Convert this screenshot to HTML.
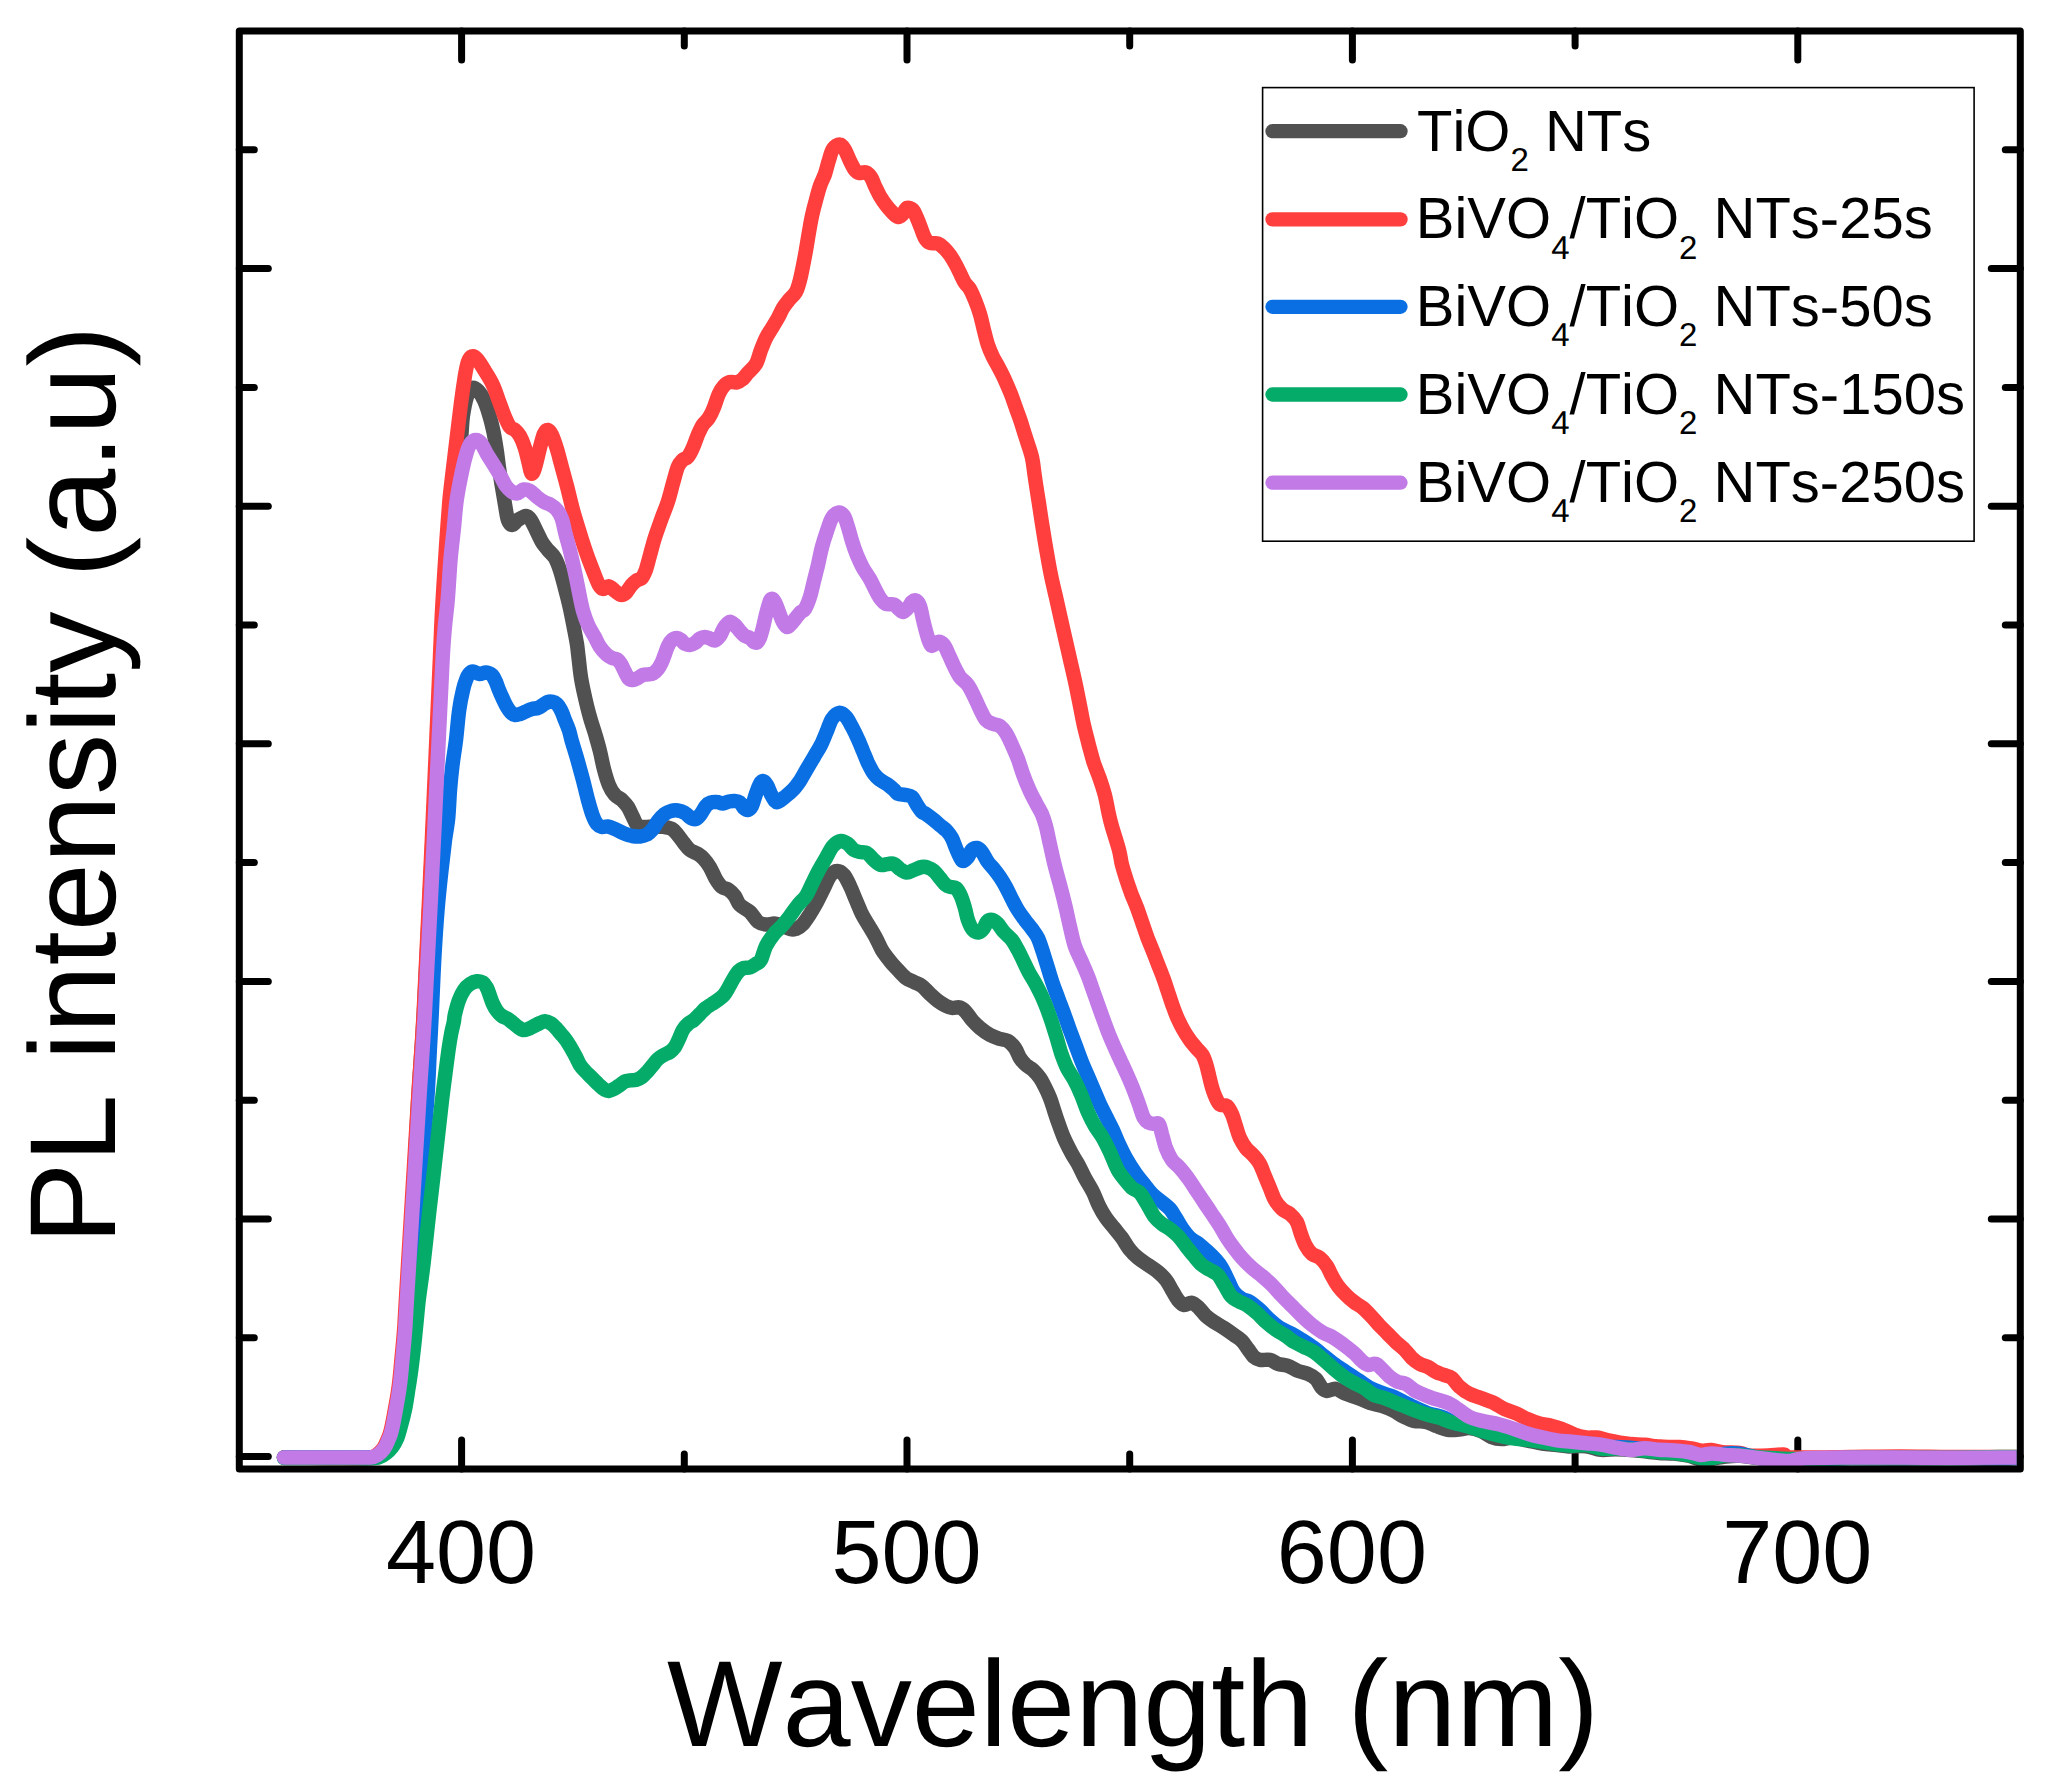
<!DOCTYPE html>
<html><head><meta charset="utf-8"><title>PL intensity</title>
<style>
html,body{margin:0;padding:0;background:#fff;}
body{width:2051px;height:1786px;overflow:hidden;}
svg{display:block;}
text{font-family:"Liberation Sans",Arial,Helvetica,sans-serif;fill:#000;font-kerning:none;font-feature-settings:"kern" 0,"liga" 0;text-rendering:geometricPrecision;}
</style></head><body>
<svg width="2051" height="1786" viewBox="0 0 2051 1786">
<rect x="0" y="0" width="2051" height="1786" fill="#ffffff"/>
<defs><clipPath id="plot"><rect x="239.3" y="31.0" width="1777.5" height="1438.0"/></clipPath></defs>

<g stroke="#000" stroke-width="7" stroke-linecap="round">
<line x1="461.6" y1="1469.0" x2="461.6" y2="1440.0"/>
<line x1="461.6" y1="31.0" x2="461.6" y2="60.0"/>
<line x1="684.3" y1="1469.0" x2="684.3" y2="1454.0"/>
<line x1="684.3" y1="31.0" x2="684.3" y2="46.0"/>
<line x1="907.0" y1="1469.0" x2="907.0" y2="1440.0"/>
<line x1="907.0" y1="31.0" x2="907.0" y2="60.0"/>
<line x1="1129.7" y1="1469.0" x2="1129.7" y2="1454.0"/>
<line x1="1129.7" y1="31.0" x2="1129.7" y2="46.0"/>
<line x1="1352.4" y1="1469.0" x2="1352.4" y2="1440.0"/>
<line x1="1352.4" y1="31.0" x2="1352.4" y2="60.0"/>
<line x1="1575.1" y1="1469.0" x2="1575.1" y2="1454.0"/>
<line x1="1575.1" y1="31.0" x2="1575.1" y2="46.0"/>
<line x1="1797.8" y1="1469.0" x2="1797.8" y2="1440.0"/>
<line x1="1797.8" y1="31.0" x2="1797.8" y2="60.0"/>
<line x1="239.3" y1="1456.6" x2="268.3" y2="1456.6"/>
<line x1="2020.3" y1="1456.6" x2="1991.3" y2="1456.6"/>
<line x1="239.3" y1="1337.8" x2="254.3" y2="1337.8"/>
<line x1="2020.3" y1="1337.8" x2="2005.3" y2="1337.8"/>
<line x1="239.3" y1="1219.0" x2="268.3" y2="1219.0"/>
<line x1="2020.3" y1="1219.0" x2="1991.3" y2="1219.0"/>
<line x1="239.3" y1="1100.2" x2="254.3" y2="1100.2"/>
<line x1="2020.3" y1="1100.2" x2="2005.3" y2="1100.2"/>
<line x1="239.3" y1="981.4" x2="268.3" y2="981.4"/>
<line x1="2020.3" y1="981.4" x2="1991.3" y2="981.4"/>
<line x1="239.3" y1="862.6" x2="254.3" y2="862.6"/>
<line x1="2020.3" y1="862.6" x2="2005.3" y2="862.6"/>
<line x1="239.3" y1="743.8" x2="268.3" y2="743.8"/>
<line x1="2020.3" y1="743.8" x2="1991.3" y2="743.8"/>
<line x1="239.3" y1="625.0" x2="254.3" y2="625.0"/>
<line x1="2020.3" y1="625.0" x2="2005.3" y2="625.0"/>
<line x1="239.3" y1="506.2" x2="268.3" y2="506.2"/>
<line x1="2020.3" y1="506.2" x2="1991.3" y2="506.2"/>
<line x1="239.3" y1="387.4" x2="254.3" y2="387.4"/>
<line x1="2020.3" y1="387.4" x2="2005.3" y2="387.4"/>
<line x1="239.3" y1="268.6" x2="268.3" y2="268.6"/>
<line x1="2020.3" y1="268.6" x2="1991.3" y2="268.6"/>
<line x1="239.3" y1="149.8" x2="254.3" y2="149.8"/>
<line x1="2020.3" y1="149.8" x2="2005.3" y2="149.8"/>
</g>
<g clip-path="url(#plot)" fill="none" stroke-width="14.5" stroke-linejoin="round" stroke-linecap="round">
<path stroke="#515151" d="M284.0,1457.5C291.7,1457.6 315.7,1457.9 330.0,1458.0C344.3,1458.1 362.1,1458.4 370.0,1458.0C377.9,1457.6 375.0,1456.9 377.4,1455.4C379.8,1453.9 382.5,1451.5 384.4,1448.9C386.4,1446.3 387.6,1443.1 388.9,1439.9C390.3,1436.8 391.1,1435.8 392.4,1429.9C393.8,1424.1 395.9,1412.4 397.2,1404.9C398.6,1397.5 399.5,1392.5 400.4,1385.0C401.4,1377.5 402.1,1369.1 402.9,1360.0C403.8,1350.8 404.9,1340.0 405.6,1330.0C406.4,1320.0 405.4,1337.7 407.4,1300.0C409.5,1262.3 415.2,1151.6 418.0,1104.0C420.7,1056.3 421.3,1058.5 423.8,1014.0C426.2,969.5 429.7,896.4 432.6,836.9C435.5,777.4 439.3,693.2 441.2,657.0C443.0,620.8 443.0,632.7 443.9,619.8C444.9,607.0 445.9,593.2 446.9,579.9C447.9,566.5 448.9,553.2 449.9,539.9C450.9,526.6 451.8,511.6 452.9,499.9C454.1,488.2 455.6,479.9 456.9,469.9C458.3,459.9 459.9,448.9 460.9,439.9C461.9,430.9 461.9,423.3 462.9,415.9C464.0,408.6 465.6,400.6 467.1,396.0C468.6,391.3 470.1,388.8 471.9,388.0C473.8,387.1 476.3,389.0 478.3,391.0C480.3,393.0 482.2,396.1 483.9,400.0C485.7,403.8 487.4,408.9 488.9,413.9C490.5,418.9 491.9,424.3 493.1,429.9C494.4,435.6 495.4,441.9 496.3,447.9C497.3,453.9 497.9,459.9 498.7,465.9C499.6,471.9 500.5,477.6 501.5,483.9C502.6,490.2 503.9,497.9 504.9,503.9C506.0,509.9 506.7,516.4 507.9,519.9C509.2,523.4 510.7,524.9 512.3,524.9C514.0,524.9 515.6,521.4 517.9,519.9C520.2,518.4 523.7,515.9 525.9,515.9C528.1,515.9 529.1,517.2 530.9,519.9C532.7,522.6 535.1,528.2 536.9,531.9C538.7,535.6 540.1,538.9 541.9,541.9C543.7,544.9 545.7,547.2 547.9,549.9C550.1,552.5 552.9,554.5 554.9,557.9C556.9,561.2 558.2,564.9 559.9,569.9C561.6,574.9 563.2,581.5 564.9,587.9C566.6,594.2 568.4,601.2 569.9,607.8C571.4,614.5 572.7,621.8 573.9,627.8C575.1,633.8 576.1,639.0 576.9,643.8C577.7,648.7 577.8,651.5 578.5,657.0C579.2,662.5 579.8,670.3 580.9,677.0C581.9,683.7 583.4,690.3 584.9,697.0C586.4,703.6 588.2,711.0 589.9,717.0C591.5,723.0 593.2,727.3 594.9,733.0C596.5,738.6 598.4,745.0 599.9,751.0C601.4,757.0 602.4,763.3 603.9,768.9C605.4,774.6 607.0,780.6 608.9,784.9C610.7,789.3 612.7,792.4 614.9,794.9C617.0,797.4 619.7,797.9 621.9,799.9C624.0,801.9 626.0,804.1 627.9,806.9C629.7,809.8 631.2,813.8 632.9,816.9C634.5,820.1 635.7,824.3 637.9,825.9C640.0,827.6 643.2,826.8 645.9,826.9C648.5,827.0 650.8,826.5 653.8,826.5C656.8,826.5 660.8,826.5 663.8,826.9C666.8,827.3 669.5,827.6 671.8,828.9C674.2,830.2 675.8,832.6 677.8,834.9C679.8,837.2 681.8,840.4 683.8,842.9C685.8,845.4 687.5,848.1 689.8,849.9C692.2,851.7 695.5,852.4 697.8,853.9C700.2,855.4 701.8,856.7 703.8,858.9C705.8,861.1 707.8,863.6 709.8,866.9C711.8,870.2 713.8,875.6 715.8,878.9C717.8,882.2 719.6,885.1 721.8,886.9C724.0,888.7 726.6,888.4 728.8,889.9C731.0,891.4 733.0,893.4 734.8,895.9C736.6,898.4 737.3,902.2 739.8,904.9C742.3,907.6 747.0,909.1 750.0,912.0C753.0,914.8 755.3,919.8 758.0,921.9C760.7,924.0 763.3,924.3 766.0,924.5C768.7,924.8 771.7,923.5 774.0,923.5C776.3,923.6 777.3,924.0 780.0,924.9C782.7,925.8 787.3,928.3 790.0,928.9C792.6,929.6 793.8,929.8 796.0,928.9C798.1,928.1 800.6,926.4 803.0,923.9C805.3,921.4 807.6,917.6 810.0,914.0C812.3,910.3 814.6,906.3 817.0,902.0C819.3,897.6 821.8,892.3 824.0,888.0C826.1,883.6 827.8,878.8 830.0,876.0C832.1,873.1 834.6,871.1 837.0,871.0C839.3,870.8 841.8,872.5 844.0,875.0C846.1,877.5 848.0,881.8 850.0,886.0C852.0,890.1 853.9,895.3 855.9,900.0C857.9,904.6 859.8,909.6 861.9,914.0C864.1,918.3 866.6,921.9 868.9,925.9C871.3,929.9 873.8,933.9 875.9,937.9C878.1,941.9 879.6,946.1 881.9,949.9C884.3,953.8 887.3,957.6 889.9,960.9C892.6,964.3 895.3,967.1 897.9,969.9C900.6,972.8 903.3,975.9 905.9,977.9C908.6,979.9 911.3,980.6 913.9,981.9C916.6,983.3 919.3,983.9 921.9,985.9C924.6,987.9 927.2,991.4 929.9,993.9C932.6,996.4 935.2,998.9 937.9,1000.9C940.6,1002.9 943.6,1004.7 945.9,1005.9C948.2,1007.1 949.6,1007.6 951.9,1007.9C954.2,1008.2 957.6,1006.8 959.9,1007.5C962.2,1008.2 963.9,1009.8 965.9,1011.9C967.9,1014.0 969.6,1017.2 971.9,1019.9C974.2,1022.6 976.9,1025.4 979.9,1027.9C982.9,1030.4 986.6,1033.1 989.9,1034.9C993.2,1036.7 996.9,1037.9 999.9,1038.9C1002.9,1039.9 1005.5,1039.5 1008.0,1041.0C1010.5,1042.5 1013.0,1045.2 1015.0,1048.0C1017.0,1050.8 1018.2,1055.2 1020.0,1058.0C1021.8,1060.8 1023.8,1063.0 1026.0,1065.0C1028.2,1067.0 1030.7,1067.8 1033.0,1070.0C1035.3,1072.2 1038.0,1075.2 1040.0,1078.0C1042.0,1080.8 1043.3,1083.7 1045.0,1087.0C1046.7,1090.3 1048.5,1094.2 1050.0,1098.0C1051.5,1101.8 1052.7,1106.0 1054.0,1110.0C1055.3,1114.0 1056.3,1117.3 1058.0,1122.0C1059.7,1126.7 1061.7,1132.7 1064.0,1138.0C1066.3,1143.3 1069.7,1149.7 1072.0,1154.0C1074.3,1158.3 1075.8,1160.0 1078.0,1164.0C1080.2,1168.0 1082.5,1173.3 1085.0,1178.0C1087.5,1182.6 1090.6,1187.3 1093.0,1192.0C1095.3,1196.6 1096.8,1201.6 1099.0,1205.9C1101.1,1210.3 1103.5,1214.3 1106.0,1217.9C1108.5,1221.6 1111.3,1224.6 1114.0,1227.9C1116.6,1231.3 1119.3,1234.3 1122.0,1237.9C1124.6,1241.6 1127.3,1246.6 1130.0,1249.9C1132.6,1253.3 1135.0,1255.4 1138.0,1257.9C1141.0,1260.4 1144.6,1262.6 1148.0,1264.9C1151.3,1267.3 1154.9,1269.4 1157.9,1271.9C1160.9,1274.4 1163.6,1276.9 1165.9,1279.9C1168.3,1282.9 1169.9,1286.6 1171.9,1289.9C1173.9,1293.2 1175.9,1297.4 1177.9,1299.9C1179.9,1302.4 1181.6,1304.4 1183.9,1304.9C1186.3,1305.4 1189.4,1302.4 1191.9,1302.9C1194.4,1303.4 1196.6,1305.7 1198.9,1307.9C1201.3,1310.1 1203.4,1313.6 1205.9,1315.9C1208.4,1318.2 1210.9,1319.9 1213.9,1321.9C1216.9,1323.9 1220.6,1325.7 1223.9,1327.9C1227.2,1330.1 1230.9,1332.7 1233.9,1334.9C1236.9,1337.1 1239.6,1338.6 1241.9,1340.9C1244.2,1343.2 1245.9,1346.2 1247.9,1348.9C1249.9,1351.5 1251.9,1355.0 1253.9,1356.9C1255.9,1358.7 1257.2,1359.4 1259.9,1359.9C1262.6,1360.4 1266.9,1359.2 1269.9,1359.9C1272.9,1360.5 1274.9,1362.9 1277.9,1363.9C1280.9,1364.9 1284.6,1364.7 1287.9,1365.9C1291.2,1367.0 1294.5,1369.5 1297.9,1370.9C1301.2,1372.2 1304.9,1372.5 1307.9,1373.9C1310.9,1375.2 1313.5,1376.5 1315.9,1378.9C1318.2,1381.2 1320.0,1385.9 1321.9,1387.9C1323.7,1389.9 1324.5,1390.7 1326.9,1390.9C1329.2,1391.0 1332.7,1388.4 1335.9,1388.9C1339.0,1389.4 1342.2,1392.4 1345.9,1393.9C1349.5,1395.4 1353.9,1396.4 1357.8,1397.9C1361.8,1399.4 1365.8,1401.5 1369.8,1402.9C1373.8,1404.2 1377.8,1404.5 1381.8,1405.9C1385.8,1407.2 1390.2,1409.0 1393.8,1410.8C1397.5,1412.7 1400.5,1415.2 1403.8,1416.8C1407.2,1418.5 1410.2,1420.0 1413.8,1420.8C1417.5,1421.7 1422.2,1421.0 1425.8,1421.8C1429.5,1422.7 1432.1,1424.5 1435.8,1425.8C1439.5,1427.2 1443.9,1429.2 1447.8,1429.8C1451.7,1430.5 1455.4,1429.9 1459.0,1429.6C1462.6,1429.3 1465.6,1427.9 1469.3,1428.1C1472.9,1428.4 1477.3,1429.6 1481.0,1431.1C1484.6,1432.5 1487.8,1435.6 1491.2,1436.9C1494.6,1438.2 1497.8,1439.0 1501.4,1439.1C1505.1,1439.2 1508.7,1437.4 1513.1,1437.6C1517.5,1437.9 1522.9,1439.6 1527.8,1440.6C1532.6,1441.5 1537.5,1442.8 1542.4,1443.5C1547.3,1444.2 1552.6,1444.5 1557.0,1445.0C1561.4,1445.4 1563.8,1446.2 1568.7,1446.4C1573.6,1446.6 1580.9,1445.7 1586.3,1446.3C1591.6,1446.9 1596.0,1449.4 1600.9,1449.9C1605.8,1450.4 1610.6,1449.2 1615.5,1449.2C1620.4,1449.2 1625.3,1449.6 1630.2,1449.9C1635.0,1450.3 1639.9,1450.9 1644.8,1451.4C1649.7,1451.9 1654.5,1452.5 1659.4,1452.9C1664.3,1453.2 1669.2,1453.1 1674.0,1453.6C1678.9,1454.1 1684.3,1454.8 1688.7,1455.8C1693.0,1456.8 1696.5,1458.9 1700.4,1459.4C1704.3,1459.9 1707.9,1459.2 1712.1,1458.7C1716.2,1458.2 1720.6,1457.0 1725.2,1456.5C1729.9,1456.0 1734.2,1455.5 1740.0,1455.8C1745.8,1456.0 1750.0,1457.5 1760.0,1458.0C1770.0,1458.5 1785.0,1459.0 1800.0,1459.0C1815.0,1459.0 1833.3,1458.1 1850.0,1458.0C1866.7,1457.9 1883.3,1458.5 1900.0,1458.5C1916.7,1458.5 1933.3,1457.9 1950.0,1458.0C1966.7,1458.1 1988.3,1459.0 2000.0,1459.0C2011.7,1459.0 2016.7,1458.2 2020.0,1458.0"/>
<path stroke="#FF3E3E" d="M284.0,1457.5C291.7,1457.6 315.8,1458.0 330.0,1458.0C344.2,1458.0 361.3,1457.9 369.0,1457.5C376.7,1457.1 373.6,1456.9 375.9,1455.4C378.3,1454.0 381.0,1451.5 382.9,1448.9C384.9,1446.3 386.1,1443.1 387.4,1439.9C388.8,1436.8 389.6,1435.8 390.9,1429.9C392.3,1424.1 394.4,1412.4 395.7,1404.9C397.1,1397.5 398.0,1392.5 398.9,1385.0C399.9,1377.5 400.6,1369.1 401.4,1360.0C402.3,1350.8 403.4,1340.0 404.1,1330.0C404.9,1320.0 403.7,1337.7 405.9,1300.0C408.2,1262.3 414.8,1151.6 417.8,1104.0C420.7,1056.3 421.2,1058.5 423.6,1014.0C425.9,969.5 429.2,896.4 432.0,836.9C434.7,777.4 438.4,693.2 440.0,657.0C441.6,620.8 440.9,632.7 441.6,619.8C442.2,607.0 443.1,593.2 443.9,579.9C444.8,566.5 445.6,553.2 446.5,539.9C447.5,526.6 448.5,511.6 449.5,499.9C450.6,488.2 451.8,479.9 452.9,469.9C454.1,459.9 455.2,450.9 456.5,439.9C457.9,428.9 459.5,414.6 460.9,403.9C462.3,393.3 463.8,383.0 464.9,376.0C466.1,369.0 466.8,365.2 467.9,362.0C469.1,358.7 470.4,356.9 471.9,356.4C473.4,355.9 474.8,356.5 476.9,359.0C479.1,361.4 482.3,366.6 484.9,371.0C487.6,375.3 490.6,380.0 492.9,385.0C495.3,390.0 496.9,395.6 498.9,401.0C500.9,406.3 503.1,412.6 504.9,416.9C506.8,421.3 508.3,424.8 509.9,426.9C511.6,429.1 513.2,428.4 514.9,429.9C516.6,431.4 518.2,432.9 519.9,435.9C521.6,438.9 523.4,443.3 524.9,447.9C526.4,452.6 527.8,459.7 528.9,463.9C530.0,468.2 530.5,472.8 531.5,473.5C532.5,474.2 533.5,472.2 534.9,467.9C536.3,463.7 538.4,453.6 539.9,447.9C541.4,442.3 542.6,436.9 543.9,433.9C545.2,430.9 546.6,429.8 547.9,429.9C549.2,430.1 550.4,431.8 551.9,434.9C553.4,438.1 555.3,443.8 556.9,448.9C558.5,454.1 559.8,459.8 561.5,465.9C563.2,472.1 565.0,478.6 566.9,485.9C568.8,493.2 570.8,502.2 572.9,509.9C575.0,517.6 577.3,524.7 579.5,531.9C581.7,539.1 584.0,546.4 586.3,552.9C588.5,559.4 591.0,565.5 593.1,570.9C595.2,576.2 597.2,581.9 598.9,584.9C600.5,587.9 601.2,588.6 602.9,588.9C604.5,589.1 606.9,585.9 608.9,586.3C610.9,586.6 612.9,589.4 614.9,590.9C616.9,592.3 619.0,594.5 620.9,594.9C622.7,595.2 624.2,594.4 625.9,592.9C627.5,591.4 629.2,587.9 630.9,585.9C632.5,583.9 634.0,582.2 635.9,580.9C637.7,579.5 640.2,579.7 641.9,577.9C643.5,576.0 644.5,573.5 645.9,569.9C647.2,566.2 648.3,561.2 649.8,555.9C651.3,550.5 652.8,544.2 654.8,537.9C656.8,531.6 659.7,523.9 661.8,517.9C664.0,511.9 666.0,507.6 667.8,501.9C669.7,496.2 671.2,489.7 672.8,483.9C674.5,478.1 676.2,470.9 677.8,466.9C679.5,462.9 681.2,461.6 682.8,459.9C684.5,458.3 686.2,458.9 687.8,456.9C689.5,454.9 691.2,451.6 692.8,447.9C694.5,444.3 696.2,438.8 697.8,434.9C699.5,431.1 701.0,427.8 702.8,424.9C704.7,422.1 707.0,420.8 708.8,417.9C710.7,415.1 712.2,411.9 713.8,407.9C715.5,403.9 717.1,397.6 718.8,394.0C720.5,390.3 722.0,388.0 723.8,386.0C725.6,384.0 727.6,382.6 729.8,382.0C732.0,381.4 734.6,382.9 736.8,382.4C739.0,381.9 741.0,380.5 742.8,379.0C744.6,377.4 745.6,375.5 747.8,373.0C750.0,370.4 753.8,367.7 756.0,363.9C758.2,360.0 759.3,354.2 761.0,349.9C762.7,345.5 764.2,341.5 766.0,337.9C767.8,334.2 770.0,331.2 772.0,327.9C774.0,324.6 776.2,321.2 778.0,317.9C779.8,314.6 781.2,310.9 783.0,307.9C784.8,304.9 786.8,302.6 789.0,299.9C791.1,297.2 794.1,295.2 796.0,291.9C797.8,288.6 798.8,284.2 800.0,279.9C801.1,275.6 802.0,270.9 803.0,265.9C804.0,260.9 805.0,255.6 806.0,249.9C807.0,244.3 808.0,237.6 809.0,231.9C810.0,226.3 810.8,221.3 812.0,215.9C813.1,210.6 814.6,204.9 816.0,200.0C817.3,195.0 818.5,190.3 820.0,186.0C821.5,181.6 823.5,178.3 825.0,174.0C826.5,169.6 827.6,164.1 829.0,160.0C830.3,155.8 831.1,151.6 833.0,149.0C834.8,146.4 838.0,144.2 840.0,144.4C842.0,144.5 843.3,147.2 845.0,150.0C846.6,152.7 848.3,157.6 850.0,161.0C851.6,164.3 853.4,168.0 854.9,170.0C856.4,172.0 857.1,172.6 858.9,173.0C860.8,173.4 863.9,171.7 865.9,172.4C867.9,173.0 869.4,174.7 870.9,177.0C872.4,179.2 873.4,182.8 874.9,186.0C876.4,189.1 878.1,192.8 879.9,196.0C881.8,199.1 883.9,202.3 885.9,204.9C887.9,207.6 889.9,209.9 891.9,211.9C893.9,213.9 896.1,216.6 897.9,216.9C899.8,217.3 901.4,215.4 902.9,213.9C904.4,212.4 905.3,208.6 906.9,207.9C908.6,207.3 911.3,208.3 912.9,209.9C914.6,211.6 915.6,214.9 916.9,217.9C918.3,220.9 919.6,224.6 920.9,227.9C922.2,231.3 923.4,235.4 924.9,237.9C926.4,240.4 927.7,242.0 929.9,242.9C932.1,243.9 935.6,242.7 937.9,243.5C940.2,244.4 941.9,246.0 943.9,247.9C945.9,249.8 947.9,252.1 949.9,254.9C951.9,257.8 954.1,261.6 955.9,264.9C957.7,268.3 959.4,271.9 960.9,274.9C962.4,277.9 963.4,280.6 964.9,282.9C966.4,285.2 968.2,286.1 969.9,288.9C971.6,291.7 973.2,295.7 974.9,299.9C976.6,304.1 978.4,308.9 979.9,313.9C981.4,318.9 982.6,324.7 983.9,329.9C985.2,335.1 986.4,340.4 987.9,344.9C989.4,349.4 991.0,353.0 992.9,356.9C994.7,360.7 996.9,364.0 998.9,367.9C1000.9,371.7 1002.9,375.5 1004.9,379.9C1006.9,384.2 1009.0,389.2 1010.9,393.9C1012.7,398.5 1014.2,403.2 1015.9,407.8C1017.5,412.5 1019.2,416.8 1020.9,421.8C1022.5,426.8 1024.0,432.0 1025.9,437.8C1027.7,443.7 1030.4,450.5 1031.9,457.0C1033.4,463.5 1033.7,469.3 1034.9,477.0C1036.0,484.7 1037.5,494.3 1038.9,503.0C1040.2,511.6 1041.5,520.6 1042.9,529.0C1044.2,537.3 1045.5,545.3 1046.9,553.0C1048.2,560.6 1049.4,567.6 1050.9,574.9C1052.4,582.3 1054.2,589.6 1055.9,596.9C1057.5,604.3 1059.2,611.6 1060.8,618.9C1062.5,626.3 1064.2,633.6 1065.8,640.9C1067.5,648.2 1069.2,655.6 1070.8,662.9C1072.5,670.2 1074.3,677.9 1075.8,684.9C1077.3,691.9 1078.5,698.2 1079.8,704.9C1081.2,711.5 1082.3,718.2 1083.8,724.9C1085.3,731.5 1087.2,738.5 1088.8,744.9C1090.5,751.2 1092.0,757.2 1093.8,762.9C1095.7,768.5 1098.0,773.5 1099.8,778.8C1101.7,784.2 1103.3,789.0 1104.8,794.8C1106.3,800.7 1107.7,808.8 1108.8,814.0C1110.0,819.2 1110.1,820.0 1111.8,826.0C1113.5,832.0 1117.3,843.6 1119.0,850.0C1120.7,856.4 1120.7,859.8 1121.9,864.6C1123.2,869.5 1124.7,874.4 1126.3,879.3C1127.9,884.1 1129.6,889.0 1131.4,893.9C1133.3,898.8 1135.5,903.6 1137.3,908.5C1139.1,913.4 1140.7,918.3 1142.4,923.1C1144.1,928.0 1145.7,932.9 1147.5,937.8C1149.4,942.6 1151.6,947.8 1153.4,952.4C1155.2,957.0 1156.8,961.2 1158.5,965.6C1160.2,969.9 1162.0,974.3 1163.6,978.7C1165.2,983.1 1166.6,987.5 1168.0,991.9C1169.5,996.3 1170.8,1000.7 1172.4,1005.0C1174.0,1009.4 1175.7,1014.1 1177.5,1018.2C1179.4,1022.4 1181.3,1026.3 1183.4,1029.9C1185.4,1033.6 1187.8,1037.1 1190.0,1040.2C1192.2,1043.2 1194.5,1045.8 1196.5,1048.2C1198.6,1050.6 1200.8,1052.2 1202.4,1054.8C1204.0,1057.3 1204.9,1060.1 1206.0,1063.6C1207.1,1067.0 1208.0,1071.4 1209.0,1075.3C1209.9,1079.2 1210.8,1083.3 1211.9,1087.0C1213.0,1090.6 1214.2,1094.3 1215.6,1097.2C1216.9,1100.1 1218.0,1103.0 1219.9,1104.5C1221.8,1106.0 1224.9,1104.4 1226.9,1106.0C1228.9,1107.6 1230.4,1110.7 1231.9,1114.0C1233.4,1117.3 1234.6,1122.0 1235.9,1126.0C1237.2,1130.0 1238.2,1134.3 1239.9,1138.0C1241.6,1141.6 1243.6,1145.0 1245.9,1148.0C1248.2,1151.0 1251.6,1153.3 1253.9,1156.0C1256.2,1158.6 1258.1,1160.6 1259.9,1164.0C1261.7,1167.3 1263.2,1172.0 1264.9,1176.0C1266.6,1180.0 1268.2,1184.0 1269.9,1188.0C1271.6,1192.0 1272.9,1196.5 1274.9,1200.0C1276.9,1203.4 1279.4,1206.6 1281.9,1208.9C1284.4,1211.3 1287.4,1211.8 1289.9,1213.9C1292.4,1216.1 1295.0,1218.6 1296.9,1221.9C1298.7,1225.3 1299.4,1229.9 1300.9,1233.9C1302.4,1237.9 1304.0,1242.6 1305.9,1245.9C1307.7,1249.3 1309.5,1251.9 1311.9,1253.9C1314.2,1255.9 1317.4,1255.9 1319.9,1257.9C1322.4,1259.9 1324.9,1262.9 1326.9,1265.9C1328.9,1268.9 1330.0,1272.6 1331.9,1275.9C1333.7,1279.2 1335.5,1282.7 1337.9,1285.9C1340.2,1289.1 1343.2,1292.2 1345.9,1294.9C1348.5,1297.6 1351.0,1299.7 1353.9,1301.9C1356.7,1304.1 1359.8,1305.4 1362.8,1307.9C1365.8,1310.4 1369.0,1313.9 1371.8,1316.9C1374.7,1319.9 1377.2,1323.1 1379.8,1325.9C1382.5,1328.7 1385.2,1331.2 1387.8,1333.9C1390.5,1336.6 1393.2,1339.4 1395.8,1341.9C1398.5,1344.4 1401.2,1346.2 1403.8,1348.9C1406.5,1351.5 1409.2,1355.4 1411.8,1357.9C1414.5,1360.4 1417.2,1362.4 1419.8,1363.9C1422.5,1365.4 1425.2,1365.5 1427.8,1366.9C1430.5,1368.2 1433.1,1370.5 1435.8,1371.9C1438.5,1373.2 1441.1,1373.9 1443.8,1374.9C1446.5,1375.9 1449.3,1376.0 1451.8,1377.9C1454.3,1379.8 1456.1,1383.7 1459.0,1386.3C1461.9,1388.9 1465.6,1391.7 1469.3,1393.6C1472.9,1395.6 1477.1,1396.5 1481.0,1398.0C1484.9,1399.5 1488.8,1400.6 1492.7,1402.4C1496.6,1404.2 1500.5,1407.1 1504.4,1409.0C1508.3,1410.8 1512.2,1411.7 1516.1,1413.4C1520.0,1415.1 1523.9,1417.5 1527.8,1419.2C1531.7,1420.9 1535.6,1422.5 1539.5,1423.6C1543.4,1424.7 1547.3,1424.8 1551.2,1425.8C1555.1,1426.8 1559.0,1428.0 1562.9,1429.4C1566.8,1430.9 1570.7,1433.2 1574.6,1434.6C1578.5,1435.9 1582.6,1437.0 1586.3,1437.5C1589.9,1438.0 1592.9,1437.0 1596.5,1437.5C1600.2,1438.0 1604.3,1439.6 1608.2,1440.4C1612.1,1441.3 1616.0,1442.0 1619.9,1442.6C1623.8,1443.2 1627.5,1443.7 1631.6,1444.1C1635.8,1444.4 1640.6,1444.4 1644.8,1444.8C1648.9,1445.2 1652.6,1445.9 1656.5,1446.3C1660.4,1446.6 1664.3,1446.9 1668.2,1447.0C1672.1,1447.1 1676.0,1446.8 1679.9,1447.0C1683.8,1447.2 1687.9,1447.9 1691.6,1448.5C1695.2,1449.1 1698.7,1450.4 1701.8,1450.7C1705.0,1450.9 1707.2,1449.7 1710.6,1449.9C1714.0,1450.2 1717.4,1451.6 1722.3,1452.1C1727.2,1452.6 1735.6,1452.3 1740.0,1452.9C1744.4,1453.4 1743.8,1455.0 1748.5,1455.4C1753.2,1455.8 1762.2,1455.6 1768.0,1455.4C1773.8,1455.2 1779.7,1454.2 1783.6,1454.5C1787.5,1454.8 1780.3,1457.0 1791.4,1457.4C1802.5,1457.8 1831.9,1457.2 1850.0,1457.0C1868.1,1456.8 1883.3,1456.5 1900.0,1456.5C1916.7,1456.5 1933.3,1456.9 1950.0,1457.0C1966.7,1457.1 1988.3,1457.0 2000.0,1457.0C2011.7,1457.0 2016.7,1457.0 2020.0,1457.0"/>
<path stroke="#0A6FE3" d="M284.0,1457.5C291.7,1457.5 315.3,1457.5 330.0,1457.5C344.7,1457.5 363.6,1457.8 372.0,1457.5C380.4,1457.2 377.9,1456.9 380.4,1455.4C383.0,1454.0 385.5,1451.5 387.4,1448.9C389.4,1446.3 390.6,1443.1 391.9,1439.9C393.3,1436.8 394.1,1435.8 395.4,1429.9C396.8,1424.1 398.9,1412.4 400.2,1404.9C401.6,1397.5 402.5,1392.5 403.4,1385.0C404.4,1377.5 405.1,1369.1 405.9,1360.0C406.8,1350.8 407.9,1340.0 408.6,1330.0C409.4,1320.0 409.2,1315.0 410.4,1300.0C411.7,1285.0 414.2,1260.3 416.0,1240.0C417.8,1219.7 419.1,1201.3 421.0,1178.0C422.9,1154.7 425.7,1121.3 427.2,1100.0C428.7,1078.7 429.0,1065.0 429.8,1050.0C430.6,1035.0 431.2,1025.0 431.9,1010.0C432.6,995.0 433.3,976.7 434.2,960.0C435.1,943.3 436.3,925.0 437.5,910.0C438.7,895.0 440.2,881.7 441.5,870.0C442.8,858.3 443.9,848.7 445.0,840.0C446.1,831.3 447.4,826.4 448.2,818.0C449.0,809.7 449.3,798.8 450.0,789.9C450.7,781.1 451.5,773.3 452.5,764.9C453.5,756.6 454.9,749.1 456.0,740.0C457.1,730.8 458.0,718.3 459.2,710.0C460.3,701.6 461.8,695.0 463.0,690.0C464.1,685.0 465.0,682.6 466.0,680.0C467.0,677.3 467.8,675.4 469.0,674.0C470.1,672.6 471.2,671.5 473.0,671.5C474.7,671.5 477.3,673.8 479.5,674.0C481.6,674.2 483.9,672.3 486.0,672.5C488.1,672.7 490.3,673.4 492.0,675.0C493.6,676.6 494.8,679.5 496.0,682.0C497.1,684.5 497.8,687.1 499.0,690.0C500.1,692.8 501.6,696.1 503.0,699.0C504.3,701.8 505.6,704.7 507.0,707.0C508.3,709.2 509.6,711.1 511.0,712.5C512.3,713.8 513.5,714.7 515.0,715.0C516.5,715.2 518.1,714.5 520.0,714.0C521.8,713.4 523.9,712.3 525.9,711.5C527.9,710.6 529.9,709.5 531.9,709.0C533.9,708.4 536.1,708.6 537.9,708.0C539.8,707.3 541.3,706.0 542.9,705.0C544.6,704.0 546.4,702.5 547.9,702.0C549.4,701.4 550.4,701.3 551.9,701.7C553.4,702.0 555.4,702.6 556.9,704.0C558.4,705.4 559.6,707.3 560.9,710.0C562.3,712.6 563.6,716.6 564.9,720.0C566.3,723.3 567.8,726.6 568.9,730.0C570.0,733.3 570.1,735.0 571.5,740.0C572.9,745.0 575.6,753.3 577.5,760.0C579.4,766.7 581.2,773.3 583.0,780.0C584.7,786.6 586.4,794.1 588.0,800.0C589.6,805.8 591.0,811.0 592.5,815.0C594.0,819.0 595.4,822.0 597.0,824.0C598.6,826.0 600.2,826.5 602.0,827.0C603.8,827.4 605.8,826.1 608.0,826.5C610.1,826.8 612.5,827.9 615.0,829.0C617.5,830.0 620.1,831.8 623.0,833.0C625.8,834.1 629.1,835.4 632.0,836.0C634.8,836.5 637.5,836.7 640.0,836.5C642.5,836.2 644.8,835.7 647.0,834.5C649.1,833.2 651.1,831.2 653.0,829.0C654.8,826.7 656.1,823.4 658.0,821.0C659.8,818.5 661.8,816.1 664.0,814.5C666.1,812.8 668.6,811.6 671.0,811.0C673.3,810.3 675.6,810.1 677.9,810.5C680.3,810.8 682.8,811.7 684.9,813.0C687.1,814.2 689.1,817.0 690.9,818.0C692.8,819.0 694.3,819.6 695.9,819.0C697.6,818.3 699.3,816.1 700.9,814.0C702.6,811.8 704.3,807.9 705.9,806.0C707.6,804.1 709.1,803.1 710.9,802.5C712.8,801.8 714.9,801.8 716.9,802.0C718.9,802.1 720.9,803.6 722.9,803.5C724.9,803.4 726.9,801.9 728.9,801.5C730.9,801.1 733.1,800.8 734.9,801.0C736.8,801.1 738.4,801.3 739.9,802.5C741.4,803.6 742.6,806.7 743.9,808.0C745.2,809.2 746.6,810.3 747.9,810.0C749.2,809.6 750.6,808.6 751.9,806.0C753.2,803.3 754.6,797.6 755.9,794.0C757.2,790.3 758.7,786.1 759.9,784.0C761.1,781.8 761.7,780.8 762.9,781.0C764.1,781.1 765.6,782.8 766.9,785.0C768.2,787.1 769.6,791.3 770.9,794.0C772.3,796.6 773.8,799.7 775.0,801.0C776.2,802.3 776.3,802.5 778.0,801.8C779.7,801.1 782.5,798.8 785.0,796.8C787.5,794.8 790.5,792.5 793.0,789.8C795.5,787.2 797.6,784.3 800.0,780.8C802.3,777.3 804.6,772.8 807.0,768.8C809.3,764.8 811.6,760.9 814.0,756.9C816.3,752.9 818.8,749.2 821.0,744.9C823.1,740.5 825.1,735.2 827.0,730.9C828.8,726.5 830.0,721.9 832.0,718.9C834.0,715.9 836.6,713.2 839.0,712.9C841.3,712.5 843.8,714.5 846.0,716.9C848.1,719.2 850.0,723.2 852.0,726.9C853.9,730.5 856.1,734.9 857.9,738.9C859.8,742.9 861.3,746.9 862.9,750.9C864.6,754.9 866.1,759.0 867.9,762.9C869.8,766.7 871.9,771.0 873.9,773.8C875.9,776.7 877.6,778.0 879.9,779.8C882.3,781.7 885.6,783.2 887.9,784.8C890.3,786.5 892.3,788.3 893.9,789.8C895.6,791.3 896.1,793.0 897.9,793.8C899.8,794.7 902.6,794.3 904.9,794.8C907.3,795.3 909.9,795.2 911.9,796.8C913.9,798.5 915.3,802.3 916.9,804.8C918.6,807.3 920.4,810.3 921.9,811.8C923.4,813.4 923.9,812.6 925.9,814.0C927.9,815.4 931.4,818.0 933.9,820.0C936.4,822.0 938.7,824.2 940.9,826.0C943.1,827.8 945.1,829.0 946.9,831.0C948.7,833.0 950.4,835.2 951.9,838.0C953.4,840.8 954.6,844.8 955.9,848.0C957.2,851.1 958.7,854.8 959.9,857.0C961.1,859.1 961.6,861.0 962.9,861.0C964.2,861.0 966.4,858.8 967.9,857.0C969.4,855.1 970.4,851.5 971.9,850.0C973.4,848.5 975.2,847.7 976.9,848.0C978.6,848.3 980.1,849.6 981.9,852.0C983.7,854.3 985.9,859.1 987.9,862.0C989.9,864.8 991.9,866.5 993.9,869.0C995.9,871.5 997.9,874.0 999.9,877.0C1001.9,880.0 1003.9,883.3 1005.9,887.0C1007.9,890.6 1009.9,895.1 1011.9,899.0C1013.9,902.8 1015.7,906.5 1017.9,910.0C1020.0,913.5 1022.5,916.8 1024.9,919.9C1027.2,923.1 1029.7,925.9 1031.9,928.9C1034.0,931.9 1036.0,934.1 1037.9,937.9C1039.7,941.8 1041.2,946.9 1042.9,951.9C1044.5,956.9 1046.2,962.6 1047.9,967.9C1049.5,973.3 1051.0,978.6 1052.9,983.9C1054.7,989.2 1056.9,994.6 1058.8,999.9C1060.8,1005.2 1063.0,1010.9 1064.8,1015.9C1066.7,1020.9 1068.0,1024.9 1069.8,1029.9C1071.7,1034.9 1073.8,1040.6 1075.8,1045.9C1077.8,1051.2 1079.8,1056.9 1081.8,1061.9C1083.8,1066.9 1085.8,1071.2 1087.8,1075.9C1089.8,1080.5 1091.8,1085.2 1093.8,1089.9C1095.8,1094.5 1097.7,1099.2 1099.8,1103.9C1102.0,1108.5 1104.7,1113.5 1106.8,1117.9C1109.0,1122.2 1110.8,1125.5 1112.8,1129.8C1114.8,1134.2 1116.7,1139.2 1118.8,1143.8C1121.0,1148.5 1123.0,1152.8 1125.8,1157.8C1128.7,1162.9 1132.9,1169.6 1136.0,1174.0C1139.0,1178.3 1141.3,1180.6 1144.0,1184.0C1146.6,1187.3 1149.0,1191.0 1152.0,1194.0C1154.9,1197.0 1158.9,1199.5 1161.9,1202.0C1164.9,1204.4 1167.6,1206.3 1169.9,1208.9C1172.3,1211.6 1173.9,1214.8 1175.9,1217.9C1177.9,1221.1 1179.6,1224.6 1181.9,1227.9C1184.3,1231.3 1187.1,1235.3 1189.9,1237.9C1192.8,1240.6 1195.9,1241.6 1198.9,1243.9C1201.9,1246.3 1205.1,1249.3 1207.9,1251.9C1210.8,1254.6 1213.6,1257.3 1215.9,1259.9C1218.3,1262.6 1219.9,1264.6 1221.9,1267.9C1223.9,1271.2 1225.9,1275.9 1227.9,1279.9C1229.9,1283.9 1231.6,1288.7 1233.9,1291.9C1236.2,1295.1 1239.2,1297.2 1241.9,1298.9C1244.6,1300.6 1246.9,1300.1 1249.9,1301.9C1252.9,1303.7 1256.6,1306.9 1259.9,1309.9C1263.2,1312.9 1266.6,1316.9 1269.9,1319.9C1273.2,1322.9 1276.2,1325.6 1279.9,1327.9C1283.6,1330.2 1288.2,1331.9 1291.9,1333.9C1295.5,1335.9 1298.2,1337.6 1301.9,1339.9C1305.5,1342.2 1310.2,1345.2 1313.9,1347.9C1317.5,1350.5 1320.5,1353.2 1323.9,1355.9C1327.2,1358.5 1330.2,1361.2 1333.9,1363.9C1337.5,1366.5 1341.9,1369.2 1345.9,1371.9C1349.9,1374.5 1353.9,1377.2 1357.8,1379.9C1361.8,1382.5 1365.8,1385.7 1369.8,1387.9C1373.8,1390.0 1377.8,1391.4 1381.8,1392.9C1385.8,1394.4 1389.8,1395.2 1393.8,1396.9C1397.8,1398.5 1401.8,1400.9 1405.8,1402.9C1409.8,1404.9 1413.8,1407.0 1417.8,1408.8C1421.8,1410.7 1425.8,1412.5 1429.8,1413.8C1433.8,1415.2 1437.1,1415.2 1441.8,1416.8C1446.5,1418.5 1453.2,1422.5 1457.8,1423.8C1462.4,1425.2 1464.9,1424.1 1469.3,1425.2C1473.6,1426.2 1479.0,1428.7 1483.9,1430.1C1488.8,1431.6 1493.6,1432.8 1498.5,1433.9C1503.4,1435.1 1508.3,1436.1 1513.1,1436.9C1518.0,1437.6 1522.9,1437.7 1527.8,1438.3C1532.6,1438.9 1537.5,1439.8 1542.4,1440.5C1547.3,1441.3 1552.1,1442.1 1557.0,1442.7C1561.9,1443.3 1566.8,1444.1 1571.6,1444.2C1576.5,1444.3 1581.4,1443.0 1586.3,1443.5C1591.1,1443.9 1596.0,1446.5 1600.9,1447.1C1605.8,1447.7 1610.6,1447.0 1615.5,1447.1C1620.4,1447.2 1625.3,1447.5 1630.2,1447.8C1635.0,1448.2 1639.9,1448.8 1644.8,1449.3C1649.7,1449.8 1654.5,1450.4 1659.4,1450.8C1664.3,1451.1 1669.2,1451.0 1674.0,1451.5C1678.9,1452.0 1684.3,1452.8 1688.7,1453.7C1693.0,1454.5 1696.5,1456.1 1700.4,1456.6C1704.3,1457.1 1707.9,1457.1 1712.1,1456.6C1716.2,1456.1 1720.6,1454.2 1725.2,1453.7C1729.9,1453.2 1734.2,1453.0 1740.0,1453.7C1745.8,1454.4 1750.0,1456.9 1760.0,1458.0C1770.0,1459.1 1785.0,1460.0 1800.0,1460.0C1815.0,1460.0 1833.3,1458.3 1850.0,1458.0C1866.7,1457.7 1883.3,1458.0 1900.0,1458.0C1916.7,1458.0 1933.3,1458.0 1950.0,1458.0C1966.7,1458.0 1988.3,1458.0 2000.0,1458.0C2011.7,1458.0 2016.7,1458.0 2020.0,1458.0"/>
<path stroke="#05AC69" d="M284.0,1458.0C291.7,1458.0 315.7,1458.0 330.0,1458.0C344.3,1458.0 361.8,1458.3 370.0,1458.2C378.2,1458.1 376.3,1458.2 378.9,1457.4C381.6,1456.6 383.8,1455.1 385.9,1453.4C388.1,1451.8 390.1,1449.8 391.9,1447.4C393.8,1445.0 395.4,1442.7 396.9,1438.9C398.5,1435.2 399.8,1429.8 401.1,1424.9C402.5,1420.1 403.7,1415.8 404.9,1409.9C406.1,1404.1 407.2,1396.6 408.2,1390.0C409.3,1383.3 410.2,1377.5 411.2,1370.0C412.2,1362.5 413.3,1353.3 414.2,1345.0C415.1,1336.6 416.0,1327.5 416.7,1320.0C417.5,1312.5 417.6,1309.5 418.7,1300.0C419.9,1290.5 421.9,1277.3 423.6,1263.0C425.3,1248.7 427.4,1228.2 429.0,1214.0C430.6,1199.8 431.8,1190.3 433.2,1178.0C434.6,1165.7 436.0,1153.0 437.5,1140.0C439.0,1127.0 440.7,1110.8 442.0,1100.0C443.3,1089.2 444.1,1083.3 445.2,1075.0C446.3,1066.7 447.5,1057.0 448.5,1050.0C449.5,1043.0 450.4,1037.7 451.3,1033.0C452.2,1028.3 453.2,1025.2 453.8,1022.0C454.4,1018.8 454.1,1017.7 455.0,1014.0C455.9,1010.3 457.5,1004.0 459.0,1000.0C460.5,996.0 462.2,992.7 464.0,990.0C465.8,987.3 467.8,985.5 470.0,984.0C472.2,982.5 474.8,981.5 477.0,981.2C479.2,981.0 481.3,981.4 483.0,982.5C484.7,983.6 485.8,985.8 487.0,988.0C488.2,990.2 489.0,993.3 490.0,996.0C491.0,998.7 491.8,1001.5 493.0,1004.0C494.2,1006.5 495.5,1009.0 497.0,1011.0C498.5,1013.0 500.2,1014.7 502.0,1016.0C503.8,1017.3 506.2,1017.8 508.0,1019.0C509.8,1020.2 511.3,1021.7 513.0,1023.0C514.7,1024.3 516.3,1025.8 518.0,1027.0C519.7,1028.2 521.3,1029.7 523.0,1030.0C524.7,1030.3 526.2,1029.7 528.0,1029.0C529.8,1028.3 532.0,1027.0 534.0,1026.0C536.0,1025.0 538.2,1023.8 540.0,1023.0C541.8,1022.2 543.2,1021.1 545.0,1021.2C546.8,1021.3 549.2,1022.4 551.0,1023.5C552.8,1024.6 554.3,1026.2 556.0,1028.0C557.7,1029.8 559.3,1032.0 561.0,1034.0C562.7,1036.0 564.3,1037.7 566.0,1040.0C567.7,1042.3 569.3,1045.2 571.0,1048.0C572.7,1050.8 574.5,1054.2 576.0,1057.0C577.5,1059.8 578.5,1062.7 580.0,1065.0C581.5,1067.3 583.2,1069.0 585.0,1071.0C586.8,1073.0 589.0,1075.0 591.0,1077.0C593.0,1079.0 595.5,1081.5 597.0,1083.0C598.5,1084.5 598.7,1084.8 600.0,1085.9C601.3,1087.1 603.5,1089.1 605.0,1089.9C606.5,1090.8 607.5,1091.1 609.0,1090.9C610.5,1090.8 612.1,1089.9 614.0,1088.9C615.8,1087.9 618.1,1086.2 620.0,1084.9C621.8,1083.7 623.3,1082.2 625.0,1081.4C626.6,1080.7 628.1,1080.7 630.0,1080.4C631.8,1080.2 634.0,1080.5 636.0,1079.9C638.0,1079.4 640.0,1078.4 642.0,1076.9C644.0,1075.4 646.1,1072.9 648.0,1070.9C649.8,1068.9 651.3,1066.9 653.0,1064.9C654.6,1062.9 656.1,1060.6 658.0,1059.0C659.8,1057.3 662.0,1056.1 663.9,1055.0C665.9,1053.8 668.1,1053.3 669.9,1052.0C671.8,1050.6 673.4,1049.1 674.9,1047.0C676.4,1044.8 677.6,1041.8 678.9,1039.0C680.3,1036.1 681.4,1032.5 682.9,1030.0C684.4,1027.5 686.1,1025.6 687.9,1024.0C689.8,1022.3 691.9,1021.6 693.9,1020.0C695.9,1018.3 697.9,1016.0 699.9,1014.0C701.9,1012.0 703.9,1009.6 705.9,1008.0C707.9,1006.3 709.9,1005.3 711.9,1004.0C713.9,1002.6 715.9,1001.5 717.9,1000.0C719.9,998.5 722.1,997.1 723.9,995.0C725.8,992.8 727.3,989.8 728.9,987.0C730.6,984.2 732.2,980.7 733.9,978.0C735.6,975.3 737.2,972.7 738.9,971.0C740.6,969.3 742.1,968.6 743.9,968.0C745.7,967.4 747.9,968.2 749.9,967.5C751.9,966.8 754.1,965.2 755.9,964.0C757.7,962.7 759.2,963.0 760.9,960.0C762.6,957.0 763.8,950.3 766.0,945.9C768.2,941.6 771.3,937.3 774.0,933.9C776.7,930.6 779.3,928.9 782.0,925.9C784.6,922.9 787.3,919.4 790.0,916.0C792.6,912.5 795.3,908.3 798.0,905.0C800.6,901.6 803.6,899.5 806.0,896.0C808.3,892.5 809.8,888.3 812.0,884.0C814.1,879.6 816.6,874.3 819.0,870.0C821.3,865.6 823.6,862.0 826.0,858.0C828.3,854.0 830.5,848.8 833.0,846.0C835.5,843.2 838.5,841.3 841.0,841.0C843.5,840.7 845.8,842.5 848.0,844.0C850.1,845.5 852.0,848.6 853.9,850.0C855.9,851.3 857.8,851.5 859.9,852.0C862.1,852.5 864.6,851.6 866.9,853.0C869.3,854.3 871.6,858.0 873.9,860.0C876.3,862.0 878.6,864.3 880.9,865.0C883.3,865.6 885.8,864.1 887.9,864.0C890.1,863.8 891.9,863.1 893.9,864.0C895.9,864.8 897.8,867.5 899.9,869.0C902.1,870.4 904.6,872.4 906.9,872.6C909.3,872.7 911.4,870.9 913.9,870.0C916.4,869.0 919.6,867.4 921.9,867.0C924.2,866.6 925.9,866.9 927.9,867.6C929.9,868.2 931.9,869.2 933.9,871.0C935.9,872.7 937.9,875.6 939.9,878.0C941.9,880.3 944.1,883.5 945.9,885.0C947.7,886.5 949.2,886.5 950.9,887.0C952.6,887.5 954.2,886.5 955.9,888.0C957.6,889.5 959.4,892.6 960.9,896.0C962.4,899.3 963.7,904.0 964.9,908.0C966.1,912.0 966.6,916.3 967.9,919.9C969.2,923.6 971.1,927.9 972.9,929.9C974.7,932.0 977.1,932.7 978.9,932.3C980.7,932.0 982.6,929.7 983.9,927.9C985.2,926.2 985.6,923.3 986.9,921.9C988.2,920.6 990.0,919.6 991.9,919.9C993.7,920.3 995.9,921.9 997.9,923.9C999.9,925.9 1001.5,929.3 1003.9,931.9C1006.2,934.6 1009.5,936.9 1011.9,939.9C1014.2,942.9 1016.0,946.6 1017.9,949.9C1019.7,953.3 1021.1,956.3 1022.9,959.9C1024.7,963.6 1026.5,967.9 1028.7,971.9C1030.8,975.9 1033.5,979.9 1035.7,983.9C1037.8,987.9 1039.8,991.9 1041.7,995.9C1043.5,999.9 1045.0,1003.6 1046.7,1007.9C1048.3,1012.2 1050.0,1016.9 1051.7,1021.9C1053.3,1026.9 1055.0,1032.6 1056.7,1037.9C1058.3,1043.2 1059.7,1048.9 1061.4,1053.9C1063.2,1058.9 1064.9,1063.5 1067.0,1067.9C1069.2,1072.2 1071.9,1075.5 1074.2,1079.9C1076.5,1084.2 1078.6,1088.5 1080.8,1093.9C1083.1,1099.2 1085.5,1106.5 1087.8,1111.9C1090.2,1117.2 1092.3,1121.5 1094.8,1125.8C1097.3,1130.2 1100.3,1133.5 1102.8,1137.8C1105.3,1142.2 1107.7,1147.2 1109.8,1151.8C1112.0,1156.5 1114.3,1162.5 1115.8,1165.8C1117.3,1169.2 1117.4,1169.6 1119.0,1172.0C1120.5,1174.3 1122.8,1177.3 1125.0,1180.0C1127.1,1182.6 1129.5,1185.8 1132.0,1188.0C1134.5,1190.1 1137.5,1190.3 1140.0,1193.0C1142.5,1195.6 1144.6,1200.1 1147.0,1203.9C1149.3,1207.8 1151.5,1212.6 1153.9,1215.9C1156.4,1219.3 1159.3,1221.8 1161.9,1223.9C1164.6,1226.1 1167.3,1226.9 1169.9,1228.9C1172.6,1230.9 1175.3,1233.1 1177.9,1235.9C1180.6,1238.8 1183.3,1242.6 1185.9,1245.9C1188.6,1249.3 1191.3,1252.8 1193.9,1255.9C1196.6,1259.1 1199.3,1262.6 1201.9,1264.9C1204.6,1267.3 1207.3,1268.3 1209.9,1269.9C1212.6,1271.6 1215.4,1272.2 1217.9,1274.9C1220.4,1277.6 1222.7,1282.4 1224.9,1285.9C1227.1,1289.4 1228.7,1293.4 1230.9,1295.9C1233.1,1298.4 1235.1,1299.2 1237.9,1300.9C1240.7,1302.6 1244.6,1303.7 1247.9,1305.9C1251.2,1308.1 1254.9,1311.2 1257.9,1313.9C1260.9,1316.6 1262.9,1319.2 1265.9,1321.9C1268.9,1324.6 1272.6,1327.6 1275.9,1329.9C1279.2,1332.2 1282.9,1333.9 1285.9,1335.9C1288.9,1337.9 1290.9,1340.0 1293.9,1341.9C1296.9,1343.7 1300.5,1345.2 1303.9,1346.9C1307.2,1348.5 1310.5,1349.7 1313.9,1351.9C1317.2,1354.0 1320.5,1357.0 1323.9,1359.9C1327.2,1362.7 1330.5,1366.0 1333.9,1368.9C1337.2,1371.7 1340.5,1374.5 1343.9,1376.9C1347.2,1379.2 1350.5,1381.0 1353.9,1382.9C1357.2,1384.7 1360.5,1385.9 1363.8,1387.9C1367.2,1389.9 1370.5,1393.2 1373.8,1394.9C1377.2,1396.5 1380.5,1396.7 1383.8,1397.9C1387.2,1399.0 1390.5,1400.5 1393.8,1401.9C1397.2,1403.2 1400.2,1404.4 1403.8,1405.9C1407.5,1407.4 1411.8,1409.3 1415.8,1410.8C1419.8,1412.3 1423.8,1413.7 1427.8,1414.8C1431.8,1416.0 1436.1,1416.7 1439.8,1417.8C1443.5,1419.0 1444.9,1420.4 1449.8,1421.8C1454.7,1423.3 1463.6,1425.0 1469.3,1426.7C1474.9,1428.3 1479.0,1430.2 1483.9,1431.6C1488.8,1433.1 1493.6,1434.3 1498.5,1435.4C1503.4,1436.6 1508.3,1437.6 1513.1,1438.4C1518.0,1439.1 1522.9,1439.2 1527.8,1439.8C1532.6,1440.4 1537.5,1441.3 1542.4,1442.0C1547.3,1442.8 1552.1,1443.6 1557.0,1444.2C1561.9,1444.8 1566.8,1445.6 1571.6,1445.7C1576.5,1445.8 1581.4,1444.5 1586.3,1445.0C1591.1,1445.4 1596.0,1448.0 1600.9,1448.6C1605.8,1449.2 1610.6,1448.5 1615.5,1448.6C1620.4,1448.7 1625.3,1449.0 1630.2,1449.3C1635.0,1449.7 1639.9,1450.3 1644.8,1450.8C1649.7,1451.3 1654.5,1451.9 1659.4,1452.3C1664.3,1452.6 1669.2,1452.5 1674.0,1453.0C1678.9,1453.5 1684.3,1454.3 1688.7,1455.2C1693.0,1456.0 1696.5,1457.6 1700.4,1458.1C1704.3,1458.6 1707.9,1458.6 1712.1,1458.1C1716.2,1457.6 1720.6,1455.7 1725.2,1455.2C1729.9,1454.7 1734.2,1454.8 1740.0,1455.2C1745.8,1455.6 1750.0,1456.9 1760.0,1457.5C1770.0,1458.1 1785.0,1458.9 1800.0,1459.0C1815.0,1459.1 1833.3,1458.2 1850.0,1458.0C1866.7,1457.8 1883.3,1458.0 1900.0,1458.0C1916.7,1458.0 1933.3,1458.2 1950.0,1458.0C1966.7,1457.8 1988.3,1457.2 2000.0,1457.0C2011.7,1456.8 2016.7,1457.0 2020.0,1457.0"/>
<path stroke="#C17AE6" d="M284.0,1457.5C286.7,1457.5 292.3,1457.5 300.0,1457.5C307.7,1457.5 320.0,1457.5 330.0,1457.5C340.0,1457.5 353.3,1457.5 360.0,1457.5C366.7,1457.5 367.2,1457.8 370.0,1457.5C372.8,1457.2 374.6,1456.9 376.9,1455.4C379.3,1454.0 382.0,1451.5 383.9,1448.9C385.9,1446.3 387.1,1443.1 388.4,1439.9C389.8,1436.8 390.6,1435.8 391.9,1429.9C393.3,1424.1 395.4,1412.4 396.7,1404.9C398.1,1397.5 399.0,1392.5 399.9,1385.0C400.9,1377.5 401.6,1369.1 402.4,1360.0C403.3,1350.8 404.4,1340.0 405.1,1330.0C405.9,1320.0 404.6,1337.7 406.9,1300.0C409.2,1262.3 416.0,1151.6 419.0,1104.0C421.9,1056.3 422.3,1058.5 424.8,1014.0C427.3,969.5 431.0,896.4 434.0,836.9C437.0,777.4 440.5,696.5 442.7,657.0C445.0,617.5 446.4,616.0 447.7,599.9C449.0,583.7 449.5,571.5 450.5,559.9C451.5,548.2 452.7,539.9 453.7,529.9C454.8,519.9 455.3,509.9 456.7,499.9C458.2,489.9 460.6,477.9 462.3,469.9C464.0,461.9 465.5,456.4 466.9,451.9C468.4,447.4 469.4,444.9 470.9,442.9C472.4,440.9 474.3,439.9 475.9,439.9C477.6,439.9 479.1,440.6 480.9,442.9C482.8,445.3 484.8,450.3 486.9,453.9C489.1,457.6 491.8,461.4 493.9,464.9C496.1,468.4 497.9,471.4 499.9,474.9C501.9,478.4 503.9,483.1 505.9,485.9C507.9,488.7 510.1,490.6 511.9,491.9C513.7,493.2 514.9,493.9 516.9,493.5C518.9,493.1 521.7,489.9 523.9,489.5C526.1,489.1 527.7,489.7 529.9,490.9C532.1,492.1 534.6,495.1 536.9,496.9C539.2,498.7 541.6,500.6 543.9,501.9C546.2,503.2 548.7,503.6 550.9,504.9C553.1,506.2 555.1,507.6 556.9,509.9C558.7,512.2 560.5,514.9 561.9,518.9C563.3,522.9 564.1,528.4 565.5,533.9C566.9,539.4 568.7,545.2 570.3,551.9C571.9,558.5 573.8,566.9 575.3,573.9C576.8,580.9 578.0,587.5 579.3,593.9C580.6,600.2 581.7,606.5 583.3,611.8C584.8,617.2 586.6,621.7 588.5,625.8C590.4,630.0 592.8,633.3 594.7,636.8C596.6,640.4 598.1,644.1 600.0,646.9C601.9,649.8 604.0,652.1 606.0,653.9C608.0,655.8 610.2,657.0 612.0,657.9C613.8,658.9 615.5,658.4 617.0,659.4C618.5,660.4 619.7,661.9 621.0,663.9C622.3,666.0 623.7,669.4 625.0,671.9C626.3,674.4 627.7,677.6 629.0,678.9C630.3,680.3 631.5,680.1 633.0,679.9C634.5,679.8 636.3,678.8 638.0,677.9C639.6,677.1 641.3,675.5 643.0,674.9C644.6,674.4 646.3,674.7 648.0,674.4C649.6,674.2 651.3,674.4 653.0,673.4C654.6,672.5 656.5,670.9 658.0,668.9C659.5,667.0 660.8,664.4 662.0,661.9C663.1,659.4 664.0,656.6 665.0,653.9C666.0,651.3 666.8,648.3 668.0,645.9C669.1,643.6 670.5,641.3 672.0,640.0C673.5,638.6 675.5,638.0 677.0,638.0C678.5,638.0 679.6,639.0 681.0,640.0C682.3,641.0 683.5,643.1 685.0,643.9C686.5,644.8 688.3,645.1 690.0,644.9C691.6,644.8 693.3,644.0 695.0,642.9C696.6,641.9 698.3,639.5 700.0,638.5C701.6,637.5 703.3,637.0 704.9,637.0C706.6,637.0 708.3,637.9 709.9,638.5C711.6,639.0 713.3,640.9 714.9,640.5C716.6,640.0 718.4,638.0 719.9,636.0C721.4,633.9 722.6,630.1 723.9,628.0C725.3,625.8 726.8,624.0 727.9,623.0C729.1,622.0 729.8,621.6 730.9,622.0C732.1,622.3 733.4,623.5 734.9,625.0C736.4,626.5 738.3,629.1 739.9,631.0C741.6,632.8 743.3,634.8 744.9,636.0C746.6,637.1 748.4,637.0 749.9,638.0C751.4,639.0 752.8,641.2 753.9,642.0C755.1,642.7 755.9,643.1 756.9,642.5C757.9,641.8 758.9,640.4 759.9,638.0C760.9,635.5 761.9,631.8 762.9,628.0C763.9,624.1 764.9,619.0 765.9,615.0C766.9,611.0 768.0,606.6 768.9,604.0C769.8,601.3 770.4,599.3 771.4,599.0C772.4,598.6 773.7,599.8 774.9,602.0C776.2,604.1 777.6,608.6 778.9,612.0C780.2,615.3 781.6,619.5 782.9,622.0C784.2,624.5 785.6,626.6 786.9,627.0C788.2,627.3 789.4,625.5 790.9,624.0C792.4,622.5 794.2,620.0 795.9,618.0C797.6,616.0 799.4,613.5 800.9,612.0C802.4,610.5 803.5,611.4 805.0,608.9C806.5,606.4 808.5,601.6 810.0,596.9C811.5,592.3 812.6,586.3 814.0,580.9C815.3,575.6 816.6,570.6 818.0,564.9C819.3,559.3 820.5,552.6 822.0,547.0C823.5,541.3 825.3,535.8 827.0,531.0C828.6,526.1 830.1,521.0 832.0,518.0C833.8,514.9 836.0,512.9 838.0,512.6C840.0,512.2 842.3,513.6 844.0,516.0C845.6,518.4 846.6,522.8 848.0,527.0C849.3,531.1 850.5,536.3 852.0,541.0C853.4,545.6 855.1,550.5 856.9,555.0C858.8,559.5 860.8,563.9 862.9,567.9C865.1,571.9 867.9,575.4 869.9,578.9C871.9,582.4 873.3,585.8 874.9,588.9C876.6,592.1 878.1,595.4 879.9,597.9C881.8,600.4 883.6,602.8 885.9,603.9C888.3,605.0 891.8,603.7 893.9,604.5C896.1,605.4 897.4,607.7 898.9,608.9C900.4,610.2 901.4,612.1 902.9,611.9C904.4,611.8 906.4,609.6 907.9,607.9C909.4,606.3 910.6,603.2 911.9,601.9C913.3,600.7 914.6,599.9 915.9,600.5C917.3,601.2 918.8,602.9 919.9,605.9C921.1,609.0 921.9,614.8 922.9,618.9C923.9,623.1 924.9,627.3 925.9,630.9C926.9,634.6 927.9,638.4 928.9,640.9C929.9,643.4 930.4,645.7 931.9,645.9C933.4,646.1 935.9,642.1 937.9,641.9C939.9,641.7 942.1,642.7 943.9,644.9C945.7,647.1 947.2,651.4 948.9,654.9C950.6,658.4 952.1,662.2 953.9,665.9C955.7,669.6 957.6,673.7 959.9,676.9C962.2,680.1 965.6,681.7 967.9,684.9C970.2,688.1 971.9,691.9 973.9,695.9C975.9,699.9 977.9,704.9 979.9,708.9C981.9,712.9 983.7,717.4 985.9,719.9C988.1,722.4 990.5,722.9 992.9,723.9C995.2,724.9 997.7,724.4 999.9,725.9C1002.0,727.4 1003.9,729.7 1005.9,732.9C1007.9,736.0 1009.9,740.5 1011.9,744.9C1013.9,749.2 1016.0,754.0 1017.9,758.9C1019.7,763.7 1021.0,768.8 1022.9,773.8C1024.7,778.8 1026.7,784.0 1028.9,788.8C1031.0,793.7 1033.7,798.6 1035.9,802.8C1038.0,807.0 1040.2,810.1 1041.9,814.0C1043.5,817.9 1044.5,821.0 1045.9,826.0C1047.2,831.0 1048.4,837.3 1049.9,844.0C1051.4,850.6 1053.0,858.6 1054.9,866.0C1056.7,873.3 1059.0,881.0 1060.8,888.0C1062.7,895.0 1064.3,901.6 1065.8,908.0C1067.3,914.3 1068.3,919.6 1069.8,925.9C1071.3,932.3 1072.8,939.9 1074.8,945.9C1076.8,951.9 1079.7,956.9 1081.8,961.9C1084.0,966.9 1086.0,971.3 1087.8,975.9C1089.7,980.6 1091.2,985.2 1092.8,989.9C1094.5,994.6 1096.2,999.2 1097.8,1003.9C1099.5,1008.6 1101.0,1012.9 1102.8,1017.9C1104.7,1022.9 1106.8,1028.9 1108.8,1033.9C1110.8,1038.9 1112.8,1043.4 1114.8,1047.9C1116.8,1052.4 1118.8,1056.5 1120.8,1060.9C1122.8,1065.2 1124.8,1069.4 1126.8,1073.9C1128.8,1078.4 1130.8,1082.9 1132.8,1087.9C1134.8,1092.9 1137.0,1098.9 1138.8,1103.9C1140.6,1108.9 1142.1,1114.7 1143.8,1117.9C1145.5,1121.0 1147.1,1121.8 1148.8,1122.8C1150.5,1123.8 1152.1,1123.7 1153.8,1123.8C1155.5,1124.0 1157.6,1122.3 1158.9,1124.0C1160.3,1125.7 1160.8,1130.0 1161.9,1134.0C1163.1,1138.0 1164.3,1143.6 1165.9,1148.0C1167.6,1152.3 1169.6,1156.6 1171.9,1160.0C1174.3,1163.3 1177.3,1165.0 1179.9,1168.0C1182.6,1171.0 1185.3,1174.3 1187.9,1178.0C1190.6,1181.6 1193.3,1186.0 1195.9,1190.0C1198.6,1194.0 1201.3,1198.0 1203.9,1202.0C1206.6,1205.9 1209.3,1209.9 1211.9,1213.9C1214.6,1217.9 1217.4,1221.9 1219.9,1225.9C1222.4,1229.9 1224.6,1234.3 1226.9,1237.9C1229.2,1241.6 1231.4,1244.6 1233.9,1247.9C1236.4,1251.3 1238.9,1254.6 1241.9,1257.9C1244.9,1261.3 1248.6,1264.9 1251.9,1267.9C1255.2,1270.9 1258.6,1273.1 1261.9,1275.9C1265.2,1278.7 1268.6,1281.6 1271.9,1284.9C1275.2,1288.2 1278.6,1292.4 1281.9,1295.9C1285.2,1299.4 1288.6,1302.6 1291.9,1305.9C1295.2,1309.2 1298.5,1312.7 1301.9,1315.9C1305.2,1319.1 1308.5,1322.2 1311.9,1324.9C1315.2,1327.6 1318.2,1329.7 1321.9,1331.9C1325.5,1334.1 1330.2,1335.7 1333.9,1337.9C1337.5,1340.0 1340.5,1342.4 1343.9,1344.9C1347.2,1347.4 1350.9,1350.2 1353.9,1352.9C1356.9,1355.5 1359.5,1358.9 1361.8,1360.9C1364.2,1362.9 1365.5,1364.4 1367.8,1364.9C1370.2,1365.4 1373.5,1363.2 1375.8,1363.9C1378.2,1364.5 1379.5,1366.7 1381.8,1368.9C1384.2,1371.0 1387.2,1374.7 1389.8,1376.9C1392.5,1379.0 1395.2,1380.7 1397.8,1381.9C1400.5,1383.0 1403.2,1382.5 1405.8,1383.9C1408.5,1385.2 1411.2,1388.2 1413.8,1389.9C1416.5,1391.5 1418.8,1392.5 1421.8,1393.9C1424.8,1395.2 1428.5,1396.7 1431.8,1397.9C1435.1,1399.0 1438.5,1399.7 1441.8,1400.9C1445.1,1402.0 1447.2,1402.2 1451.8,1404.9C1456.4,1407.5 1463.9,1414.1 1469.3,1416.9C1474.6,1419.6 1479.0,1420.0 1483.9,1421.3C1488.8,1422.5 1493.6,1423.0 1498.5,1424.2C1503.4,1425.4 1508.3,1427.0 1513.1,1428.6C1518.0,1430.2 1522.9,1432.2 1527.8,1433.7C1532.6,1435.2 1537.5,1436.3 1542.4,1437.3C1547.3,1438.4 1552.1,1439.5 1557.0,1440.3C1561.9,1441.0 1566.8,1441.2 1571.6,1441.7C1576.5,1442.2 1581.4,1442.7 1586.3,1443.2C1591.1,1443.7 1596.0,1443.9 1600.9,1444.7C1605.8,1445.4 1610.6,1446.7 1615.5,1447.6C1620.4,1448.4 1625.3,1449.7 1630.2,1449.8C1635.0,1449.9 1639.9,1448.3 1644.8,1448.3C1649.7,1448.3 1654.5,1449.4 1659.4,1449.8C1664.3,1450.1 1669.2,1450.1 1674.0,1450.5C1678.9,1450.9 1684.3,1451.2 1688.7,1452.0C1693.0,1452.7 1696.5,1454.7 1700.4,1454.9C1704.3,1455.1 1707.9,1453.4 1712.1,1453.4C1716.2,1453.4 1720.6,1454.5 1725.2,1454.9C1729.9,1455.3 1734.5,1455.1 1740.0,1455.6C1745.5,1456.1 1750.1,1457.1 1758.0,1458.0C1765.9,1458.9 1780.0,1460.9 1787.5,1461.0C1795.0,1461.1 1792.6,1459.0 1803.0,1458.4C1813.4,1457.8 1833.8,1457.7 1850.0,1457.5C1866.2,1457.3 1883.3,1457.5 1900.0,1457.5C1916.7,1457.5 1933.3,1457.8 1950.0,1457.8C1966.7,1457.8 1988.3,1457.5 2000.0,1457.5C2011.7,1457.5 2016.7,1457.5 2020.0,1457.5"/>
</g>
<rect x="239.3" y="31.0" width="1781.0" height="1438.0" fill="none" stroke="#000" stroke-width="7.0" stroke-linejoin="round"/>
<g font-size="90" text-anchor="middle">
<text x="461.1" y="1583">400</text>
<text x="906.5" y="1583">500</text>
<text x="1351.9" y="1583">600</text>
<text x="1797.3" y="1583">700</text>
</g>
<text x="1133" y="1745.5" font-size="122.4" text-anchor="middle">Wavelength (nm)</text>
<text transform="translate(114.8,785) rotate(-90)" font-size="122.4" text-anchor="middle">PL intensity (a.u)</text>
<rect x="1262.6" y="87.6" width="711.5" height="453.6" fill="#fff" stroke="#000" stroke-width="1.6"/>
<line x1="1272.5" y1="131.2" x2="1400.5" y2="131.2" stroke="#515151" stroke-width="14.3" stroke-linecap="round"/>
<text x="1417.0" y="150.8" font-size="58">TiO<tspan font-size="33" dy="20.2">2</tspan><tspan dy="-20.2"> NTs</tspan></text>
<line x1="1272.5" y1="219.4" x2="1400.5" y2="219.4" stroke="#FF3E3E" stroke-width="14.3" stroke-linecap="round"/>
<text x="1415.8" y="238.3" font-size="58">BiVO<tspan font-size="33" dy="20.2">4</tspan><tspan dy="-20.2">/TiO</tspan><tspan font-size="33" dy="20.2">2</tspan><tspan dy="-20.2"> NTs-25s</tspan></text>
<line x1="1272.5" y1="306.8" x2="1400.5" y2="306.8" stroke="#0A6FE3" stroke-width="14.3" stroke-linecap="round"/>
<text x="1415.8" y="326.1" font-size="58">BiVO<tspan font-size="33" dy="20.2">4</tspan><tspan dy="-20.2">/TiO</tspan><tspan font-size="33" dy="20.2">2</tspan><tspan dy="-20.2"> NTs-50s</tspan></text>
<line x1="1272.5" y1="394.5" x2="1400.5" y2="394.5" stroke="#05AC69" stroke-width="14.3" stroke-linecap="round"/>
<text x="1415.8" y="413.8" font-size="58">BiVO<tspan font-size="33" dy="20.2">4</tspan><tspan dy="-20.2">/TiO</tspan><tspan font-size="33" dy="20.2">2</tspan><tspan dy="-20.2"> NTs-150s</tspan></text>
<line x1="1272.5" y1="482.7" x2="1400.5" y2="482.7" stroke="#C17AE6" stroke-width="14.3" stroke-linecap="round"/>
<text x="1415.8" y="501.6" font-size="58">BiVO<tspan font-size="33" dy="20.2">4</tspan><tspan dy="-20.2">/TiO</tspan><tspan font-size="33" dy="20.2">2</tspan><tspan dy="-20.2"> NTs-250s</tspan></text>
</svg></body></html>
